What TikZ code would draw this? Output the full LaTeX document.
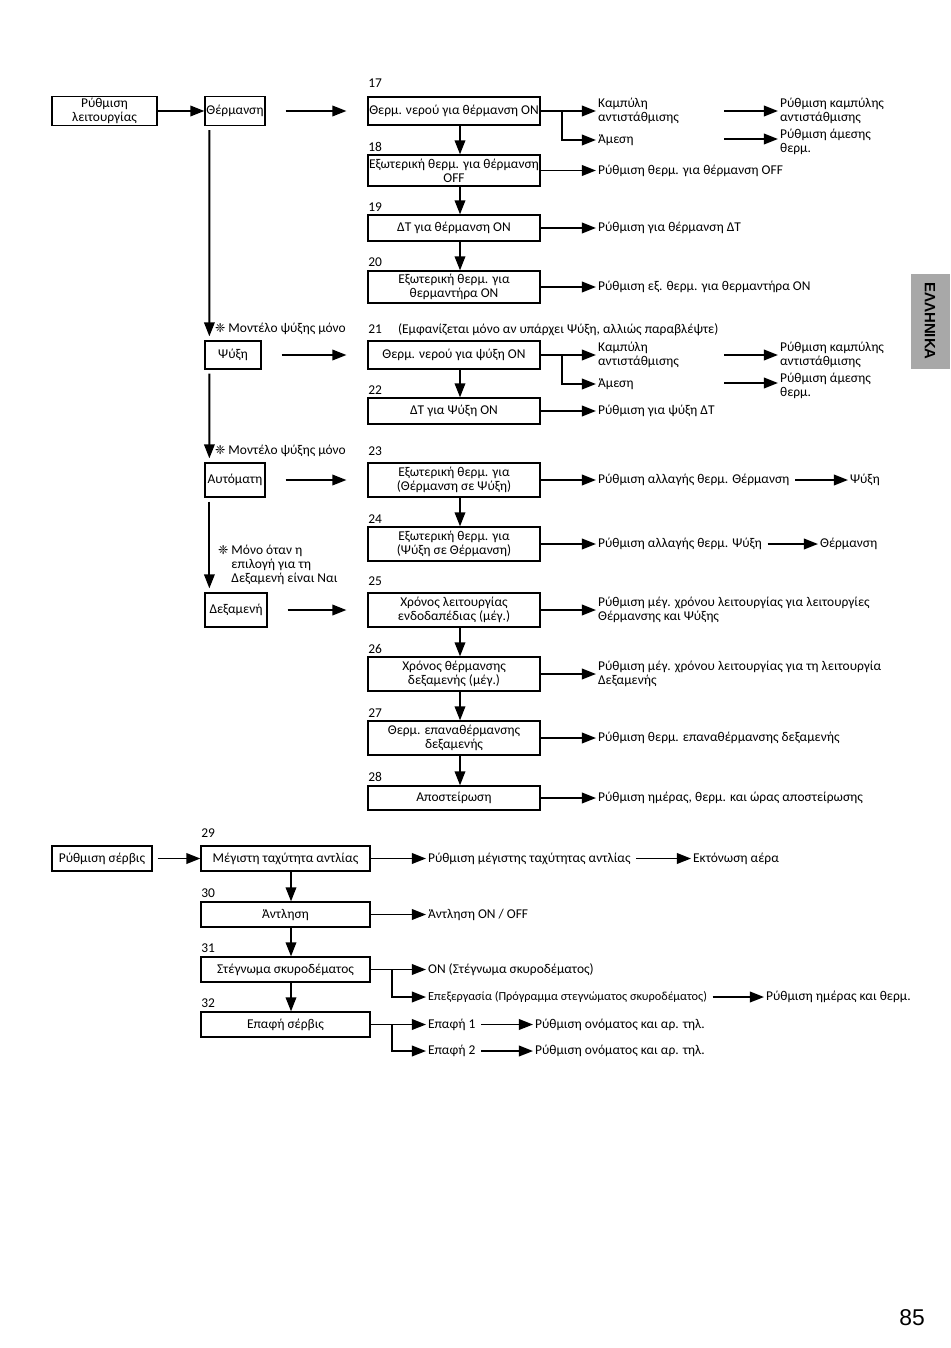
\documentclass[tikz,border=0pt]{standalone}
\usepackage{fontspec}
\setmainfont{Carlito}
\newfontfamily\symfont{DejaVu Sans}
\newfontfamily\pagefont{Liberation Sans}
\usetikzlibrary{arrows.meta}

\newcommand{\nt}{{\symfont\fontsize{7}{7}\selectfont ❈}}

\begin{document}
\begin{tikzpicture}[x=0.02cm,y=-0.02cm,
  font=\fontsize{7.65}{8}\selectfont,
  box/.style={draw,line width=0.7pt,inner xsep=0.5pt,inner ysep=1pt,align=center},
  stepbox/.style={box,minimum width=3.44cm},
  servbox/.style={box,minimum width=3.38cm,minimum height=0.5cm},
  txt/.style={anchor=west,inner sep=1pt,align=left},
  num/.style={anchor=west,inner sep=0pt},
  arr/.style={-{Triangle[length=8pt,width=6pt]},line width=1.1pt},
  gap/.style={shorten <=0.4cm,shorten >=0.42cm},
  down/.style={arr,shorten <=0.8mm,shorten >=0.8mm}]
\useasboundingbox (0,0) rectangle (950,1348);

\node[box,minimum width=2.1cm,minimum height=0.58cm] (mode) at (104.5,111) {Ρύθμιση\\λειτουργίας};
\node[box,minimum width=1.2cm,minimum height=0.58cm] (heat) at (235,111) {Θέρμανση};
\node[box,minimum width=1.12cm,minimum height=0.56cm] (cool) at (233,355) {Ψύξη};
\node[box,minimum width=1.2cm,minimum height=0.68cm] (auto) at (235,480) {Αυτόματη};
\node[box,minimum width=1.24cm,minimum height=0.68cm] (tank) at (236,610) {Δεξαμενή};

\node[stepbox,minimum height=0.56cm] (s17) at (454,111) {Θερμ. νερού για θέρμανση ON};
\node[stepbox,minimum height=0.62cm] (s18) at (454,170.5) {Εξωτερική θερμ. για θέρμανση\\OFF};
\node[stepbox,minimum height=0.52cm] (s19) at (454,228) {ΔT για θέρμανση ON};
\node[stepbox,minimum height=0.64cm] (s20) at (454,287) {Εξωτερική θερμ. για\\θερμαντήρα ON};
\node[stepbox,minimum height=0.56cm] (s21) at (454,355) {Θερμ. νερού για ψύξη ON};
\node[stepbox,minimum height=0.52cm] (s22) at (454,411) {ΔT για Ψύξη ON};
\node[stepbox,minimum height=0.68cm] (s23) at (454,480) {Εξωτερική θερμ. για\\(Θέρμανση σε Ψύξη)};
\node[stepbox,minimum height=0.68cm] (s24) at (454,544) {Εξωτερική θερμ. για\\(Ψύξη σε Θέρμανση)};
\node[stepbox,minimum height=0.68cm] (s25) at (454,610) {Χρόνος λειτουργίας\\ενδοδαπέδιας (μέγ.)};
\node[stepbox,minimum height=0.68cm] (s26) at (454,674) {Χρόνος θέρμανσης\\δεξαμενής (μέγ.)};
\node[stepbox,minimum height=0.68cm] (s27) at (454,738) {Θερμ. επαναθέρμανσης\\δεξαμενής};
\node[stepbox,minimum height=0.48cm] (s28) at (454,798) {Αποστείρωση};

\node[num] (n17) at (368,83) {17};
\node[num] (n18) at (368,147) {18};
\node[num] (n19) at (368,207) {19};
\node[num] (n20) at (368,262) {20};
\node[num] (n21) at (368,330) {21\hspace{1.2em}(Εμφανίζεται μόνο αν υπάρχει Ψύξη, αλλιώς παραβλέψτε)};
\node[num] (n22) at (368,390) {22};
\node[num] (n23) at (368,451) {23};
\node[num] (n24) at (368,519) {24};
\node[num] (n25) at (368,581) {25};
\node[num] (n26) at (368,649) {26};
\node[num] (n27) at (368,713) {27};
\node[num] (n28) at (368,777) {28};

\node[txt] (m1) at (213,329) {\nt\ Μοντέλο ψύξης μόνο};
\node[txt] (m2) at (213,451) {\nt\ Μοντέλο ψύξης μόνο};
\node[txt] (m3) at (216,565) {\nt\ Μόνο όταν η\\\hphantom{\nt\ }επιλογή για τη\\\hphantom{\nt\ }Δεξαμενή είναι Ναι};

\node[txt] (c17) at (596,111) {Καμπύλη\\αντιστάθμισης};
\node[txt] (d17) at (596,140) {Άμεση};
\node[txt] (rc17) at (778,111) {Ρύθμιση καμπύλης\\αντιστάθμισης};
\node[txt] (rd17) at (778,142) {Ρύθμιση άμεσης\\θερμ.};
\node[txt] (r18) at (596,170.5) {Ρύθμιση θερμ. για θέρμανση OFF};
\node[txt] (r19) at (596,228) {Ρύθμιση για θέρμανση ΔT};
\node[txt] (r20) at (596,287) {Ρύθμιση εξ. θερμ. για θερμαντήρα ON};
\node[txt] (c21) at (596,355) {Καμπύλη\\αντιστάθμισης};
\node[txt] (d21) at (596,384) {Άμεση};
\node[txt] (rc21) at (778,355) {Ρύθμιση καμπύλης\\αντιστάθμισης};
\node[txt] (rd21) at (778,386) {Ρύθμιση άμεσης\\θερμ.};
\node[txt] (r22) at (596,411) {Ρύθμιση για ψύξη ΔT};
\node[txt] (r23) at (596,480) {Ρύθμιση αλλαγής θερμ. Θέρμανση};
\node[txt] (q23) at (848,480) {Ψύξη};
\node[txt] (r24) at (596,544) {Ρύθμιση αλλαγής θερμ. Ψύξη};
\node[txt] (q24) at (818,544) {Θέρμανση};
\node[txt] (r25) at (596,610) {Ρύθμιση μέγ. χρόνου λειτουργίας για λειτουργίες\\Θέρμανσης και Ψύξης};
\node[txt] (r26) at (596,674) {Ρύθμιση μέγ. χρόνου λειτουργίας για τη λειτουργία\\Δεξαμενής};
\node[txt] (r27) at (596,738) {Ρύθμιση θερμ. επαναθέρμανσης δεξαμενής};
\node[txt] (r28) at (596,798) {Ρύθμιση ημέρας, θερμ. και ώρας αποστείρωσης};

\coordinate (j17) at (562,111);
\coordinate (j21) at (562,355);
\coordinate (f17a) at (724,111);
\coordinate (f17b) at (724,139);
\coordinate (f21a) at (724,355);
\coordinate (f21b) at (724,383);

\draw[arr] (mode) -- (heat);
\draw[arr,gap] (heat) -- (s17);
\draw[arr,gap] (cool) -- (s21);
\draw[arr,gap] (auto) -- (s23);
\draw[arr,gap] (tank) -- (s25);
\draw[down] ([xshift=1mm]heat.south west) -- ([xshift=1mm]cool.north west);
\draw[down] ([xshift=1mm]cool.south west) -- ([xshift=1mm]auto.north west);
\draw[down] ([xshift=1mm]auto.south west) -- ([xshift=1mm]tank.north west);
\foreach \a/\b in {s17/s18,s18/s19,s19/s20,s21/s22,s23/s24,s25/s26,s26/s27,s27/s28}
  \draw[arr] ([xshift=1.2mm]\a.south) -- ([xshift=1.2mm]\b.north);

\draw[arr] (s17.east) -- (c17.west);
\draw[arr] (j17) |- (d17.west);
\draw[arr] (f17a) -- (rc17.west);
\draw[arr] (f17b) -- (f17b -| rd17.west);
\draw[arr] (s18) -- (r18);
\draw[arr] (s19) -- (r19);
\draw[arr] (s20) -- (r20);
\draw[arr] (s21.east) -- (c21.west);
\draw[arr] (j21) |- (d21.west);
\draw[arr] (f21a) -- (rc21.west);
\draw[arr] (f21b) -- (f21b -| rd21.west);
\draw[arr] (s22) -- (r22);
\draw[arr] (s23) -- (r23);
\draw[arr,shorten <=2pt] (r23) -- (q23);
\draw[arr] (s24) -- (r24);
\draw[arr,shorten <=2pt] (r24) -- (q24);
\draw[arr] (s25) -- (r25);
\draw[arr] (s26) -- (r26);
\draw[arr] (s27) -- (r27);
\draw[arr] (s28) -- (r28);

\node[box,minimum width=2cm,minimum height=0.5cm] (serv) at (102,858.5) {Ρύθμιση σέρβις};
\node[servbox] (s29) at (285.5,858.5) {Μέγιστη ταχύτητα αντλίας};
\node[servbox] (s30) at (285.5,914.5) {Άντληση};
\node[servbox] (s31) at (285.5,969.5) {Στέγνωμα σκυροδέματος};
\node[servbox] (s32) at (285.5,1024.5) {Επαφή σέρβις};
\node[num] (n29) at (201,833) {29};
\node[num] (n30) at (201,893) {30};
\node[num] (n31) at (201,948) {31};
\node[num] (n32) at (201,1003) {32};

\node[txt] (r29) at (426,858.5) {Ρύθμιση μέγιστης ταχύτητας αντλίας};
\node[txt] (q29) at (691,858.5) {Εκτόνωση αέρα};
\node[txt] (r30) at (426,914.5) {Άντληση ON / OFF};
\node[txt] (r31) at (426,969.5) {ON (Στέγνωμα σκυροδέματος)};
\node[txt,font=\fontsize{7}{8}\selectfont] (e31) at (426,997) {Επεξεργασία (Πρόγραμμα στεγνώματος σκυροδέματος)};
\node[txt] (q31) at (764,997) {Ρύθμιση ημέρας και θερμ.};
\node[txt] (k1) at (426,1024.5) {Επαφή 1};
\node[txt] (k2) at (426,1051) {Επαφή 2};
\node[txt] (p1) at (533,1024.5) {Ρύθμιση ονόματος και αρ. τηλ.};
\node[txt] (p2) at (533,1051) {Ρύθμιση ονόματος και αρ. τηλ.};

\coordinate (j31) at (392,969.5);
\coordinate (j32) at (392,1024.5);

\draw[arr,shorten <=0.1cm] (serv) -- (s29);
\foreach \a/\b in {s29/s30,s30/s31,s31/s32}
  \draw[arr] ([xshift=1.1mm]\a.south) -- ([xshift=1.1mm]\b.north);
\draw[arr] (s29) -- (r29);
\draw[arr,shorten <=2pt] (r29) -- (q29);
\draw[arr] (s30) -- (r30);
\draw[arr] (s31) -- (r31);
\draw[arr] (j31) |- (e31.west);
\draw[arr,shorten <=2pt] (e31) -- (q31);
\draw[arr] (s32) -- (k1);
\draw[arr] (j32) |- (k2.west);
\draw[arr,shorten <=2pt] (k1) -- (p1);
\draw[arr,shorten <=2pt] (k2) -- (p2);

\fill[black!34] (911,274) rectangle (950,369);
\node[rotate=-90,font=\pagefont\bfseries\fontsize{8.5}{9}\selectfont] (tab) at (930,321) {ΕΛΛΗΝΙΚΑ};
\node[font=\pagefont\fontsize{13}{14}\selectfont] (pg) at (912,1318) {85};
\end{tikzpicture}
\end{document}
